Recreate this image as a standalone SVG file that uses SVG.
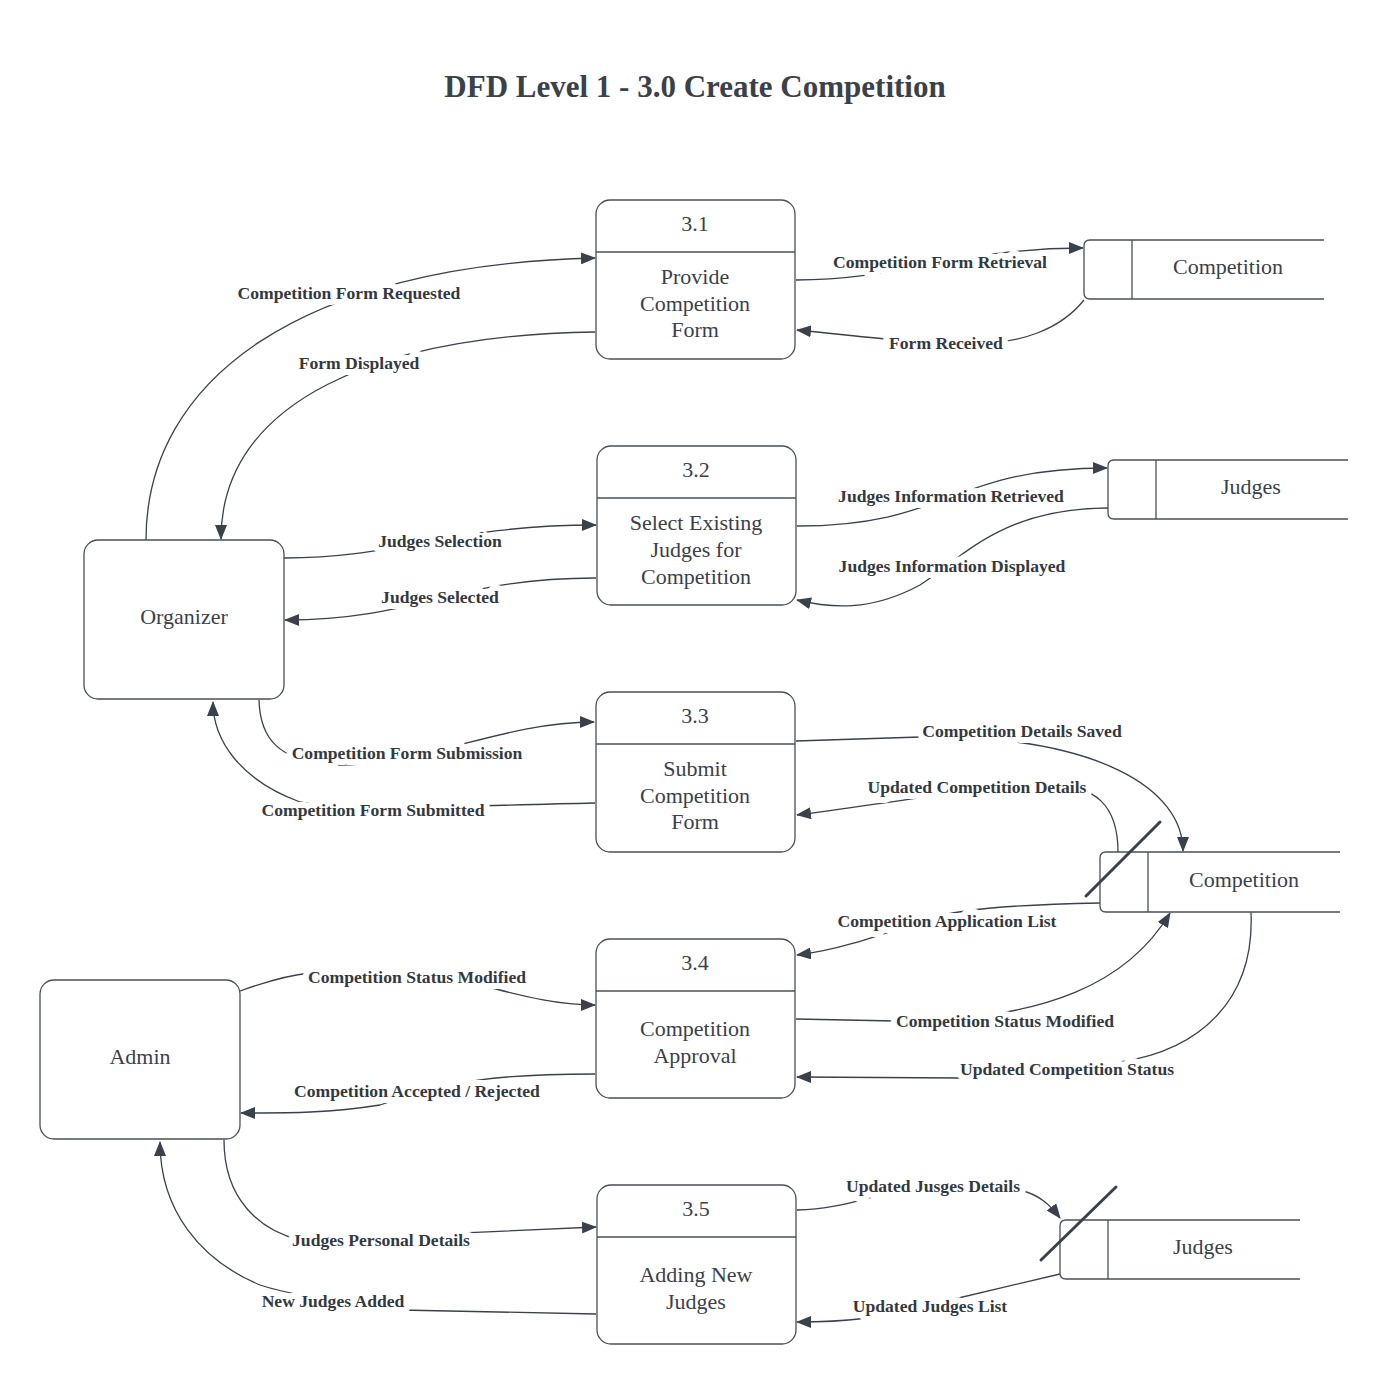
<svg xmlns="http://www.w3.org/2000/svg" width="1389" height="1386" viewBox="0 0 1389 1386">
<style>
.box{fill:#fff;stroke:#4a5058;stroke-width:1.3}
.ln{fill:none;stroke:#4a5058;stroke-width:1.3}
.nt{font-family:"Liberation Serif",serif;font-size:22px;fill:#3a414a;text-anchor:middle}
.lb{font-family:"Liberation Serif",serif;font-size:17.6px;font-weight:bold;fill:#333940;text-anchor:middle;stroke:#fff;stroke-width:12;paint-order:stroke;stroke-linejoin:round}
.c{fill:none;stroke:#3a414a;stroke-width:1.3;marker-end:url(#ah)}
.slash{stroke:#3a414a;stroke-width:3;stroke-linecap:round}
</style>
<defs>
<marker id="ah" markerUnits="userSpaceOnUse" markerWidth="16" markerHeight="12" refX="14" refY="6" orient="auto">
<path d="M0,0 L15,6 L0,12 Z" fill="#3a414a"/>
</marker>
</defs>
<rect width="1389" height="1386" fill="#fff"/>
<text x="695" y="97" font-family="Liberation Serif,serif" font-size="31" font-weight="bold" fill="#3a414a" text-anchor="middle">DFD Level 1 - 3.0 Create Competition</text>

<g id="connectors">
<path class="c" d="M146,540 C146,380 300,265 595,258"/>
<path class="c" d="M595,332 C380,335 221,400 221,539"/>
<path class="c" d="M796,280 C900,280 960,248 1083,248"/>
<path class="c" d="M1084,300 C1060,330 1020,343 980,343 C900,343 850,335 797,330"/>
<path class="c" d="M284,558 C400,558 450,525 596,525"/>
<path class="c" d="M596,578 C450,578 420,620 285,620"/>
<path class="c" d="M797,526 C950,526 950,468 1107,468"/>
<path class="c" d="M1108,508 C1000,508 960,560 920,585 C870,612 830,608 797,600"/>
<path class="c" d="M259,700 C260,740 280,760 330,765 C420,768 500,722 594,722"/>
<path class="c" d="M595,803 C450,806 350,812 300,802 C240,780 213,740 213,702"/>
<path class="c" d="M796,741 L920,737 C1100,735 1183,790 1183,851"/>
<path class="c" d="M1118,852 C1118,805 1095,785 1050,785 C950,790 880,805 797,815"/>
<path class="c" d="M1100,903 C1000,905 960,910 930,918 C880,935 840,950 797,955"/>
<path class="c" d="M796,1019 L895,1021 C1050,1021 1130,980 1170,913"/>
<path class="c" d="M1251,912 C1255,1000 1200,1050 1120,1062 L960,1078 L797,1077"/>
<path class="c" d="M240,991 C265,982 290,975 310,973 L480,985 C530,998 560,1005 595,1005"/>
<path class="c" d="M595,1074 C500,1074 450,1080 380,1105 C330,1113 290,1113 241,1113"/>
<path class="c" d="M224,1140 C224,1200 260,1230 300,1240 L596,1227"/>
<path class="c" d="M596,1314 L400,1310 C330,1300 290,1295 260,1285 C200,1260 160,1210 160,1142"/>
<path class="c" d="M797,1210 C830,1210 860,1200 880,1195 L1020,1190 C1040,1195 1050,1205 1060,1218"/>
<path class="c" d="M1060,1274 L950,1300 C880,1320 840,1322 797,1322"/>
<text class="lb" x="349" y="299">Competition Form Requested</text>
<text class="lb" x="359" y="369">Form Displayed</text>
<text class="lb" x="940" y="268">Competition Form Retrieval</text>
<text class="lb" x="946" y="349">Form Received</text>
<text class="lb" x="440" y="547">Judges Selection</text>
<text class="lb" x="440" y="603">Judges Selected</text>
<text class="lb" x="951" y="502">Judges Information Retrieved</text>
<text class="lb" x="952" y="572">Judges Information Displayed</text>
<text class="lb" x="407" y="759">Competition Form Submission</text>
<text class="lb" x="373" y="816">Competition Form Submitted</text>
<text class="lb" x="1022" y="737">Competition Details Saved</text>
<text class="lb" x="977" y="793">Updated Competition Details</text>
<text class="lb" x="947" y="927">Competition Application List</text>
<text class="lb" x="1005" y="1027">Competition Status Modified</text>
<text class="lb" x="1067" y="1075">Updated Competition Status</text>
<text class="lb" x="417" y="983">Competition Status Modified</text>
<text class="lb" x="417" y="1097">Competition Accepted / Rejected</text>
<text class="lb" x="381" y="1246">Judges Personal Details</text>
<text class="lb" x="333" y="1307">New Judges Added</text>
<text class="lb" x="933" y="1192">Updated Jusges Details</text>
<text class="lb" x="930" y="1312">Updated Judges List</text>
</g>

<g id="p31">
<rect class="box" x="596" y="200" width="199" height="159" rx="14"/>
<line class="ln" x1="596" y1="252" x2="795" y2="252"/>
<text class="nt" x="695" y="231">3.1</text>
<text class="nt" x="695" y="284">Provide</text>
<text class="nt" x="695" y="311">Competition</text>
<text class="nt" x="695" y="337">Form</text>
</g>
<g id="p32">
<rect class="box" x="597" y="446" width="199" height="159" rx="14"/>
<line class="ln" x1="597" y1="498" x2="796" y2="498"/>
<text class="nt" x="696" y="477">3.2</text>
<text class="nt" x="696" y="530">Select Existing</text>
<text class="nt" x="696" y="557">Judges for</text>
<text class="nt" x="696" y="584">Competition</text>
</g>
<g id="p33">
<rect class="box" x="596" y="692" width="199" height="160" rx="14"/>
<line class="ln" x1="596" y1="744" x2="795" y2="744"/>
<text class="nt" x="695" y="723">3.3</text>
<text class="nt" x="695" y="776">Submit</text>
<text class="nt" x="695" y="803">Competition</text>
<text class="nt" x="695" y="829">Form</text>
</g>
<g id="p34">
<rect class="box" x="596" y="939" width="199" height="159" rx="14"/>
<line class="ln" x1="596" y1="991" x2="795" y2="991"/>
<text class="nt" x="695" y="970">3.4</text>
<text class="nt" x="695" y="1036">Competition</text>
<text class="nt" x="695" y="1063">Approval</text>
</g>
<g id="p35">
<rect class="box" x="597" y="1185" width="199" height="159" rx="14"/>
<line class="ln" x1="597" y1="1237" x2="796" y2="1237"/>
<text class="nt" x="696" y="1216">3.5</text>
<text class="nt" x="696" y="1282">Adding New</text>
<text class="nt" x="696" y="1309">Judges</text>
</g>
<g id="organizer">
<rect class="box" x="84" y="540" width="200" height="159" rx="14"/>
<text class="nt" x="184" y="624">Organizer</text>
</g>
<g id="admin">
<rect class="box" x="40" y="980" width="200" height="159" rx="14"/>
<text class="nt" x="140" y="1064">Admin</text>
</g>
<g id="ds-competition-1">
<path class="box" d="M1324,240 L1090,240 Q1084,240 1084,246 L1084,293 Q1084,299 1090,299 L1324,299"/>
<line class="ln" x1="1132" y1="240" x2="1132" y2="299"/>
<text class="nt" x="1228" y="274">Competition</text>
</g>
<g id="ds-judges-1">
<path class="box" d="M1348,460 L1114,460 Q1108,460 1108,466 L1108,513 Q1108,519 1114,519 L1348,519"/>
<line class="ln" x1="1156" y1="460" x2="1156" y2="519"/>
<text class="nt" x="1251" y="494">Judges</text>
</g>
<g id="ds-competition-2">
<path class="box" d="M1340,852 L1106,852 Q1100,852 1100,858 L1100,906 Q1100,912 1106,912 L1340,912"/>
<line class="ln" x1="1148" y1="852" x2="1148" y2="912"/>
<text class="nt" x="1244" y="887">Competition</text>
<line class="slash" x1="1086" y1="896" x2="1160" y2="822"/>
</g>
<g id="ds-judges-2">
<path class="box" d="M1300,1220 L1066,1220 Q1060,1220 1060,1226 L1060,1273 Q1060,1279 1066,1279 L1300,1279"/>
<line class="ln" x1="1108" y1="1220" x2="1108" y2="1279"/>
<text class="nt" x="1203" y="1254">Judges</text>
<line class="slash" x1="1041" y1="1260" x2="1116" y2="1187"/>
</g>
</svg>
